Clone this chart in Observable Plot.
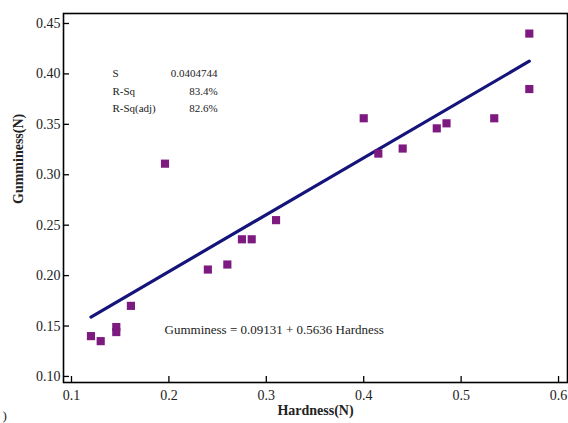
<!DOCTYPE html>
<html>
<head>
<meta charset="utf-8">
<script src="https://cdn.jsdelivr.net/npm/d3@7"></script>
<script src="https://cdn.jsdelivr.net/npm/@observablehq/plot@0.6"></script>
<style>
  html, body { margin: 0; padding: 0; background: #fff; }
  #chart { position: relative; width: 568px; height: 423px; }
  #chart svg, #chart svg text { font-family: 'Liberation Serif', 'DejaVu Serif', serif !important; }
</style>
</head>
<body>
<div id="chart"></div>
<script>
// Observations: hardness (N) and gumminess (N)
const hardness  = [0.12, 0.13, 0.146, 0.146, 0.161, 0.196, 0.240, 0.260, 0.275, 0.285, 0.310, 0.400, 0.415, 0.440, 0.475, 0.485, 0.534, 0.570, 0.570];
const gumminess = [0.140, 0.135, 0.149, 0.144, 0.170, 0.311, 0.206, 0.211, 0.236, 0.236, 0.255, 0.356, 0.321, 0.326, 0.346, 0.351, 0.356, 0.440, 0.385];

// Fitted line: Gumminess = 0.09131 + 0.5636 Hardness
const intercept = 0.09131;
const slope = 0.5636;
const fitRange = [0.12, 0.57];

const xTicks = [0.1, 0.2, 0.3, 0.4, 0.5, 0.6];
const yTicks = [0.10, 0.15, 0.20, 0.25, 0.30, 0.35, 0.40, 0.45];

const statLabels = ["S", "R-Sq", "R-Sq(adj)"];
const statValues = ["0.0404744", "83.4%", "82.6%"];
const statY = [0.400, 0.383, 0.366];
const equation = "Gumminess = 0.09131 + 0.5636 Hardness";

const points = hardness.map((h, i) => ({h, g: gumminess[i]}));
const fit = fitRange.map(h => ({h, g: intercept + slope * h}));
const stats = statLabels.map((l, i) => ({label: l, value: statValues[i], y: statY[i]}));

const serif = "Liberation Serif";

const chart = Plot.plot({
  width: 568,
  height: 423,
  marginLeft: 63,
  marginRight: 1,
  marginTop: 13,
  marginBottom: 41,
  style: {fontFamily: serif, fontSize: "14px", color: "#222", background: "#fff"},
  x: {domain: [0.0918, 0.6092]},
  y: {domain: [0.0940, 0.4599]},
  marks: [
    Plot.axisX({ticks: xTicks, tickFormat: d3.format(".1f"), tickSize: -6, tickPadding: 14, label: null, stroke: "#000", strokeWidth: 1.3, fontSize: 14, fontFamily: serif}),
    Plot.axisY({ticks: yTicks, tickFormat: d3.format(".2f"), tickSize: -6, tickPadding: 9, label: null, stroke: "#000", strokeWidth: 1.3, fontSize: 14, fontFamily: serif}),
    Plot.text(["Hardness(N)"], {frameAnchor: "bottom", dx: 0, dy: 32, fontWeight: "bold", fontSize: 14, fill: "#222", fontFamily: serif}),
    Plot.text(["Gumminess(N)"], {frameAnchor: "left", rotate: -90, dx: -45, dy: 6, fontWeight: "bold", fontSize: 14, fill: "#222", fontFamily: serif}),
    Plot.line(fit, {x: "h", y: "g", stroke: "#14147a", strokeWidth: 3.2}),
    Plot.dot(points, {x: "h", y: "g", symbol: "square", r: 4.6, fill: "#7d1a80", stroke: "none"}),
    Plot.text(stats, {x: 0.142, y: "y", text: "label", textAnchor: "start", fontSize: 11, fill: "#222", fontFamily: serif}),
    Plot.text(stats, {x: 0.250, y: "y", text: "value", textAnchor: "end", fontSize: 11, fill: "#222", fontFamily: serif}),
    Plot.text([equation], {x: 0.1955, y: 0.146, textAnchor: "start", fontSize: 13, fill: "#222", fontFamily: serif}),
    Plot.text([")"], {frameAnchor: "bottom-left", dx: -61, dy: 37, fontSize: 13, fill: "#222", fontFamily: serif}),
    Plot.frame({stroke: "#000", strokeWidth: 1.6})
  ]
});
document.getElementById("chart").appendChild(chart);
</script>
</body>
</html>
